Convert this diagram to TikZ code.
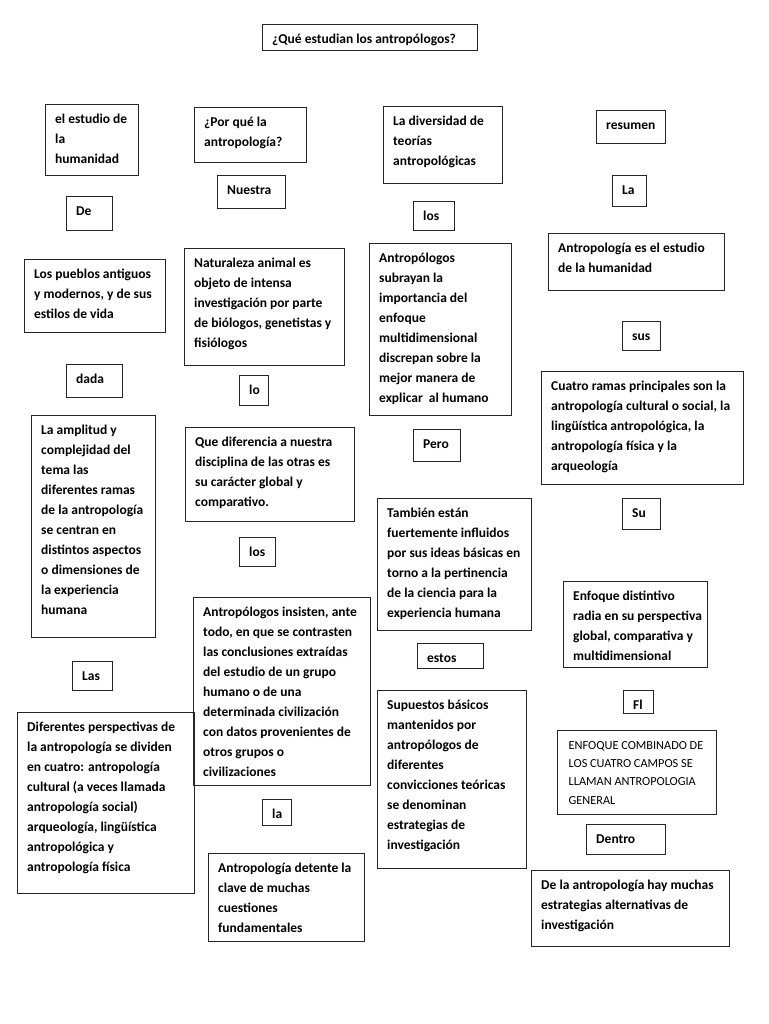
\documentclass[tikz,border=0pt]{standalone}
\usepackage{fontspec}
\setmainfont{Carlito}
% box with its text: [style]{name}{x1}{y1}{x2}{y2}{text}
\newcommand{\caja}[7][]{%
  \draw[caja] (#3,#4) rectangle (#5,#6);
  \node[texto,#1] (#2) at (#3,#4) {\strut#7};}

\begin{document}
\begin{tikzpicture}[x=1pt, y=-1pt,
  caja/.style={draw=black!85, line width=0.9pt},
  texto/.style={anchor=north west, inner sep=0pt, align=left,
    xshift=10pt, yshift=-5pt,
    font=\bfseries\fontsize{13.5}{20}\selectfont},
  chico/.style={xshift=1.5pt, yshift=-1.2pt,
    font=\fontsize{12.3}{18.3}\selectfont}]
  \useasboundingbox (0,0) rectangle (768,1024);
  % title
  \caja{titulo}{262}{24}{477}{50}{¿Qué estudian los antropólogos?}
  % column 1
  \caja{estudio}{45}{104}{138}{175}{el estudio de\\la\\humanidad}
  \caja{de}{66}{196}{112}{230}{De}
  \caja{pueblos}{24}{259}{165}{332}{Los pueblos antiguos\\y modernos, y de sus\\estilos de vida}
  \caja{dada}{66}{364}{122}{397}{dada}
  \caja{amplitud}{31}{415}{155}{637}{La amplitud y\\complejidad del\\tema las\\diferentes ramas\\de la antropología\\se centran en\\distintos aspectos\\o dimensiones de\\la experiencia\\humana}
  \caja{las}{72}{661}{112}{690}{Las}
  \caja{perspectivas}{17}{712}{194}{893}{Diferentes perspectivas de\\la antropología se dividen\\en cuatro: antropología\\cultural (a veces llamada\\antropología social)\\arqueología, lingüística\\antropológica y\\antropología física}
  % column 2
  \caja{porque}{194}{107}{306}{162}{¿Por qué la\\antropología?}
  \caja{nuestra}{217}{175}{285}{208}{Nuestra}
  \caja{naturaleza}{184}{248}{344}{365}{Naturaleza animal es\\objeto de intensa\\investigación por parte\\de biólogos, genetistas y\\fisiólogos}
  \caja{lo}{239}{375}{268}{405}{lo}
  \caja{diferencia}{185}{427}{354}{521}{Que diferencia a nuestra\\disciplina de las otras es\\su carácter global y\\comparativo.}
  \caja{losb}{239}{537}{275}{566}{los}
  \caja{insisten}{193}{597}{370}{785}{Antropólogos insisten, ante\\todo, en que se contrasten\\las conclusiones extraídas\\del estudio de un grupo\\humano o de una\\determinada civilización\\con datos provenientes de\\otros grupos o\\civilizaciones}
  \caja{la}{262}{799}{291}{825}{la}
  \caja{detente}{208}{853}{364}{941}{Antropología detente la\\clave de muchas\\cuestiones\\fundamentales}
  % column 3
  \caja{diversidad}{383}{106}{502}{183}{La diversidad de\\teorías\\antropológicas}
  \caja{losa}{413}{201}{454}{230}{los}
  \caja{subrayan}{369}{243}{511}{415}{Antropólogos\\subrayan la\\importancia del\\enfoque\\multidimensional\\discrepan sobre la\\mejor manera de\\explicar\ \ al humano}
  \caja{pero}{413}{429}{460}{461}{Pero}
  \caja{influidos}{377}{498}{531}{630}{También están\\fuertemente influidos\\por sus ideas básicas en\\torno a la pertinencia\\de la ciencia para la\\experiencia humana}
  \caja{estos}{417}{643}{483}{668}{estos}
  \caja{supuestos}{377}{690}{526}{868}{Supuestos básicos\\mantenidos por\\antropólogos de\\diferentes\\convicciones teóricas\\se denominan\\estrategias de\\investigación}
  % column 4
  \caja{resumen}{596}{110}{665}{143}{resumen}
  \caja{lab}{612}{175}{646}{206}{La}
  \caja{definicion}{548}{233}{724}{290}{Antropología es el estudio\\de la humanidad}
  \caja{sus}{622}{321}{660}{350}{sus}
  \caja{ramas}{541}{371}{743}{484}{Cuatro ramas principales son la\\antropología cultural o social, la\\lingüística antropológica, la\\antropología física y la\\arqueología}
  \caja{su}{622}{498}{660}{529}{Su}
  \caja{enfoque}{563}{581}{707}{667}{Enfoque distintivo\\radia en su perspectiva\\global, comparativa y\\multidimensional}
  \caja{fl}{623}{690}{653}{713}{Fl}
  \caja[chico]{combinado}{557}{730}{716}{814}{ENFOQUE COMBINADO DE\\LOS CUATRO CAMPOS SE\\LLAMAN ANTROPOLOGIA\\GENERAL}
  \caja{dentro}{586}{824}{665}{854}{Dentro}
  \caja{estrategias}{531}{870}{729}{946}{De la antropología hay muchas\\estrategias alternativas de\\investigación}
\end{tikzpicture}
\end{document}
